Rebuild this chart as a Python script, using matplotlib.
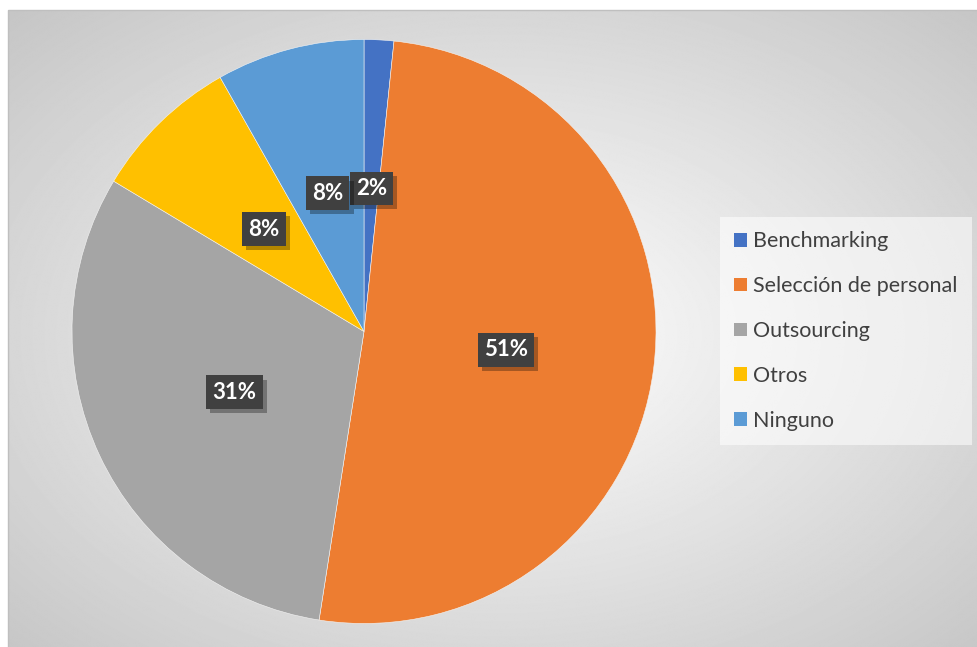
import numpy as np
import matplotlib
matplotlib.use('Agg')
import matplotlib.pyplot as plt
from matplotlib.patches import Patch, Rectangle
import matplotlib.patheffects as pe

categorias = ['Benchmarking', 'Selección de personal', 'Outsourcing', 'Otros', 'Ninguno']
valores = [1, 31, 19, 5, 5]
colores = ['#4472C4', '#ED7D31', '#A5A5A5', '#FFC000', '#5B9BD5']

plt.rcParams['font.family'] = ['Lato', 'DejaVu Sans']

W, H = 978, 647
fig = plt.figure(figsize=(W / 100, H / 100), dpi=100)
fig.patch.set_facecolor('white')

# fondo con degradado radial (area del grafico)
x0, y0 = 8, 10
bg = fig.add_axes([x0 / W, -0.02, 1 - x0 / W + 0.01, (H - y0) / H + 0.02])
bw, bh = W - x0, H - y0
yy, xx = np.mgrid[0:bh, 0:bw]
u = (xx - bw / 2) / (bw / 2)
v = (yy - bh / 2) / (bh / 2)
r = np.sqrt(u ** 2 + v ** 2)
gris = np.clip(1.0 - 0.16 * r, 0, 1)
bg.imshow(gris, cmap='gray', vmin=0, vmax=1, aspect='auto', interpolation='bilinear')
bg.set_axis_off()
fig.add_artist(Rectangle((x0 / W, -0.05), 1 - x0 / W + 0.05, (H - y0) / H + 0.05,
                         transform=fig.transFigure, fill=False, edgecolor='#bfbfbf', lw=1))

# pastel
cx, cy, rad = 364, 331.5, 292
ax = fig.add_axes([(cx - rad) / W, (H - cy - rad) / H, 2 * rad / W, 2 * rad / H])
wedges, textos, pcts = ax.pie(valores, colors=colores, startangle=90, counterclock=False,
                              autopct=lambda p: f'{p:.0f}%', pctdistance=0.49,
                              wedgeprops=dict(edgecolor='#f4f4f4', linewidth=0.4),
                              textprops=dict(color='white', fontsize=16, fontweight='bold'))
ax.set_xlim(-1, 1)
ax.set_ylim(-1, 1)
for t in pcts:
    t.set_bbox(dict(boxstyle='square,pad=0.28', facecolor='#404040', edgecolor='none',
                    linewidth=0))
    t.get_bbox_patch().set_path_effects([pe.SimplePatchShadow(offset=(3, -3), shadow_rgbFace='black', alpha=0.3),
                                         pe.Normal()])

# leyenda
handles = [Patch(facecolor=c, edgecolor='none') for c in colores]
leg = fig.legend(handles, categorias, loc='center left',
                 bbox_to_anchor=(720 / W, 1 - 331 / H), fontsize=15.5,
                 labelspacing=1.15, handlelength=0.6, handleheight=0.6,
                 handletextpad=0.3, borderpad=0.65, borderaxespad=0, frameon=True, fancybox=False)
leg.get_frame().set_facecolor('white')
leg.get_frame().set_alpha(0.55)
leg.get_frame().set_edgecolor('none')
for t in leg.get_texts():
    t.set_color('#404040')

fig.savefig('out.png', dpi=100)
